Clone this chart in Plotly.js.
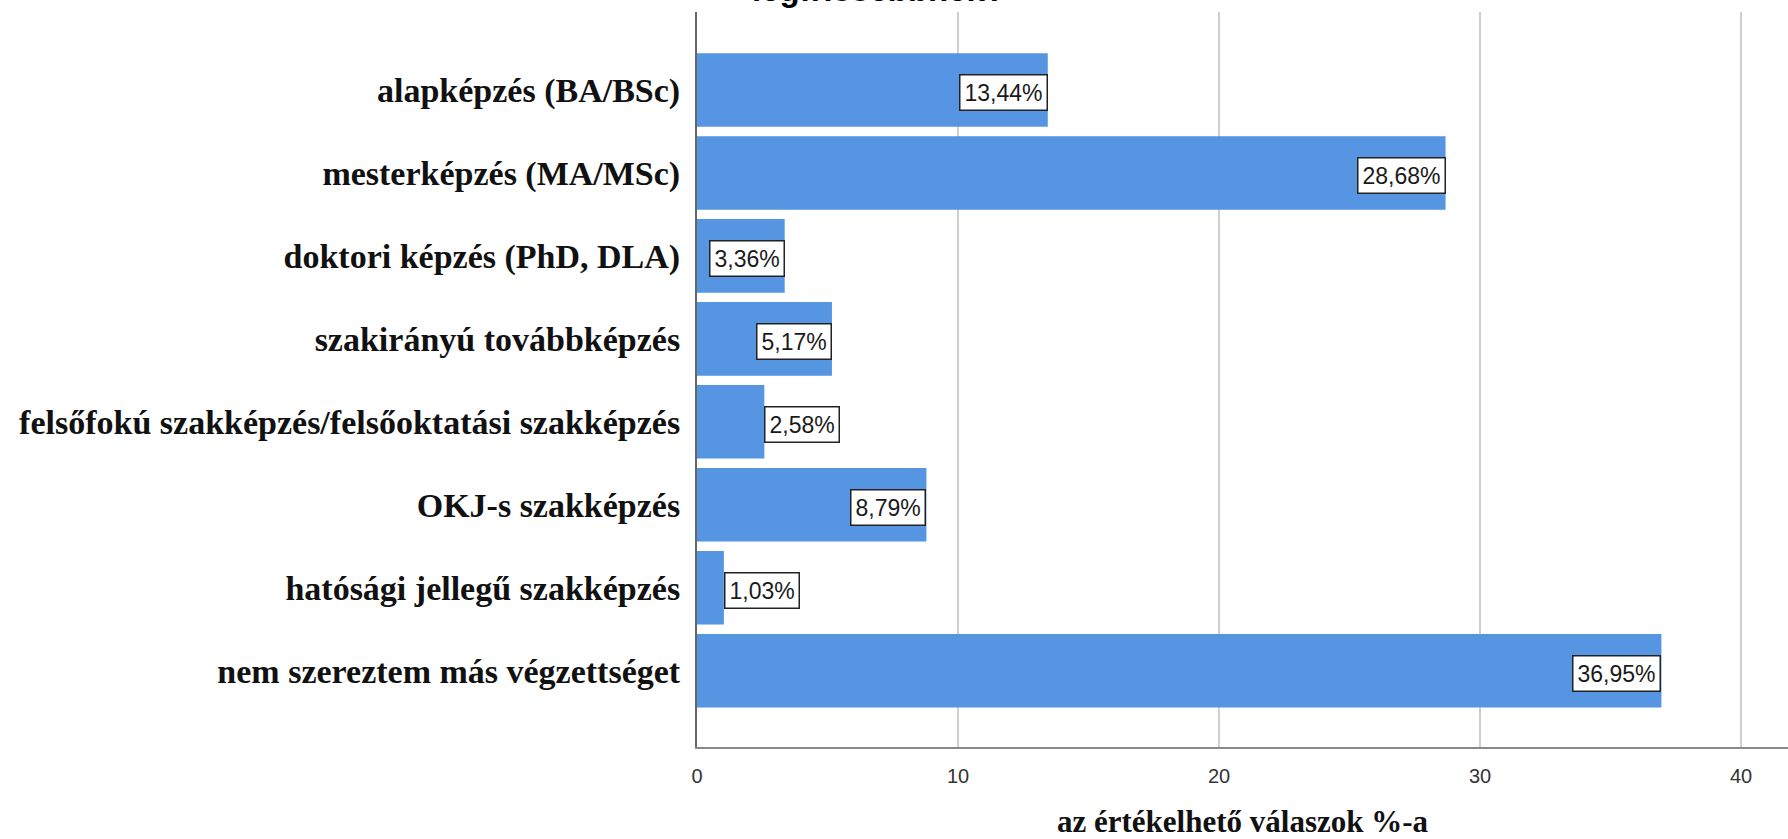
<!DOCTYPE html>
<html>
<head>
<meta charset="utf-8">
<script src="https://cdn.plot.ly/plotly-3.0.1.min.js"></script>
<style>
  html, body { margin: 0; padding: 0; background: #ffffff; }
  #chart { width: 1788px; height: 839px; }
</style>
</head>
<body>
<div id="chart"></div>
<script>
// ---- data ----
const categories = [
  "alapképzés (BA/BSc)",
  "mesterképzés (MA/MSc)",
  "doktori képzés (PhD, DLA)",
  "szakirányú továbbképzés",
  "felsőfokú szakképzés/felsőoktatási szakképzés",
  "OKJ-s szakképzés",
  "hatósági jellegű szakképzés",
  "nem szereztem más végzettséget"
];
const values = [13.44, 28.68, 3.36, 5.17, 2.58, 8.79, 1.03, 36.95];
const xTickVals = [0, 10, 20, 30, 40];
const titleText = "legfrissebbnek?";
const xAxisTitle = "az értékelhető válaszok %-a";

// ---- styles ----
const barColor = "#5595e2";
const insideThreshold = 3.0; // bars shorter than this get the label outside

const valueLabels = values.map(v => v.toFixed(2).replace(".", ",") + "%");

const trace = {
  type: "bar",
  orientation: "h",
  y: categories,
  x: values,
  marker: { color: barColor, line: { width: 0 } },
  hoverinfo: "skip",
  showlegend: false
};

const annotations = values.map((v, i) => ({
  x: v,
  y: categories[i],
  xref: "x",
  yref: "y",
  text: valueLabels[i],
  showarrow: false,
  xanchor: v >= insideThreshold ? "right" : "left",
  yanchor: "middle",
  yshift: -3,
  font: { family: "Liberation Sans, Arial, sans-serif", size: 23, color: "#1a1a1a" },
  bgcolor: "#ffffff",
  bordercolor: "#222222",
  borderwidth: 1.5,
  borderpad: 4
}));

// cut-off title (only the bottom of its last line is visible, as in the source)
annotations.push({
  x: 0.166,
  y: 1,
  xref: "paper",
  yref: "paper",
  text: titleText,
  showarrow: false,
  xanchor: "center",
  yanchor: "middle",
  yshift: 23,
  font: { family: "Liberation Sans, Arial, sans-serif", size: 33, color: "#000000", weight: 700 }
});

const layout = {
  width: 1788,
  height: 839,
  margin: { l: 697, r: 0, t: 12, b: 92, pad: 0 },
  paper_bgcolor: "#ffffff",
  plot_bgcolor: "#ffffff",
  bargap: 0.113,
  showlegend: false,
  xaxis: {
    range: [0, 41.8],
    tickvals: xTickVals,
    ticktext: xTickVals.map(String),
    showgrid: true,
    gridcolor: "#cfcfcf",
    gridwidth: 2,
    zeroline: false,
    showline: true,
    linecolor: "#888888",
    linewidth: 2,
    ticks: "",
    ticklabelstandoff: 10,
    tickfont: { family: "Liberation Sans, Arial, sans-serif", size: 20, color: "#333333" },
    title: {
      text: xAxisTitle,
      standoff: 34,
      font: { family: "Liberation Serif, Times New Roman, serif", size: 31, color: "#111111", weight: 700 }
    },
    fixedrange: true
  },
  yaxis: {
    type: "category",
    range: [7.92, -0.94],
    showgrid: false,
    zeroline: false,
    showline: true,
    linecolor: "#666666",
    linewidth: 2,
    ticks: "",
    ticklabelstandoff: 8,
    tickfont: { family: "Liberation Serif, Times New Roman, serif", size: 34, color: "#111111", weight: 700 },
    fixedrange: true
  },
  annotations: annotations
};

Plotly.newPlot("chart", [trace], layout, { staticPlot: true, displayModeBar: false });
</script>
</body>
</html>
